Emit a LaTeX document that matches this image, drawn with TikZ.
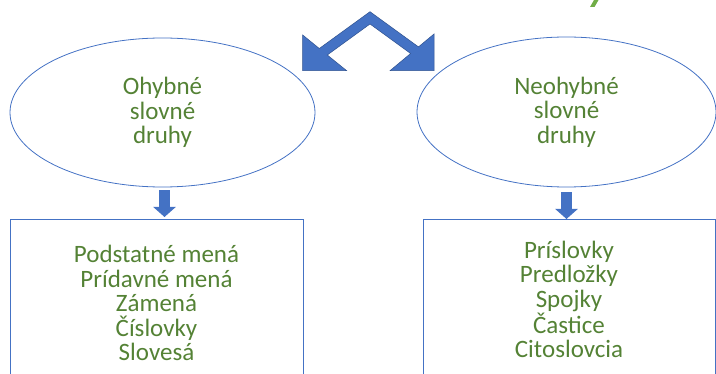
\documentclass[tikz,border=0pt]{standalone}
\usepackage{fontspec}
\setmainfont{Carlito}
\usepackage{tikz}
\usetikzlibrary{arrows.meta, positioning, shapes.geometric}

\definecolor{zelena}{RGB}{84,130,53}
\definecolor{svetlozelena}{RGB}{112,173,71}
\definecolor{modra}{RGB}{68,114,196}
\definecolor{tmavomodra}{RGB}{47,82,143}

\begin{document}
\begin{tikzpicture}[x=1pt, y=-1pt,
    pismo/.style={text=zelena, align=center, font=\fontsize{25}{24.5}\selectfont},
    druh/.style={pismo, draw=modra, line width=0.8pt, ellipse},
    zoznam/.style={pismo, draw=modra, line width=0.8pt, rectangle, anchor=north},
    sipka/.style={line width=11pt, modra, -{Triangle[width=22pt, length=10pt]}}]

    \useasboundingbox (0,0) rectangle (716,374);

    % Piece of the title cut off at the top edge
    \fill[svetlozelena] (590,7) -- (594.5,7) -- (598.5,0) -- (594,0) -- cycle;

    % Double arrow pointing to both groups
    \filldraw[fill=modra, draw=tmavomodra, line width=0.5pt]
        (370,11.7) -- (418.5,46.9) -- (434,34) -- (434,70.7) -- (390,70.7) -- (410.6,53.5)
        -- (370,24) -- (327.3,55) -- (346.7,70.7) -- (302.7,70.7) -- (302.7,35) -- (319.3,48.5) -- cycle;

    % Nodes for the two groups of word classes
    \node (ohybne) [druh, minimum width=305pt, minimum height=149pt] at (162.5,112.5) {Ohybné\\slovné\\druhy};
    \node (neohybne) [druh, minimum width=299pt, minimum height=150pt] at (566.5,112) {Neohybné\\slovné\\druhy};

    % Boxes below the ellipses, open at the lower edge
    \node (ohybneZoznam) [zoznam, minimum width=293pt, minimum height=168pt] at (156.5,219)
        {Podstatné mená\\Prídavné mená\\Zámená\\Číslovky\\Slovesá};
    \node (neohybneZoznam) [zoznam, minimum width=292pt, minimum height=160pt] at (569,219)
        {Príslovky\\Predložky\\Spojky\\Častice\\Citoslovcia};

    % Draw arrows from each ellipse to its box
    \draw[sipka, shorten <=3pt, shorten >=2pt] ([xshift=2pt]ohybne.south) -- ([xshift=2pt]ohybne.south |- ohybneZoznam.north);
    \draw[sipka, shorten <=5pt, shorten >=0pt] (neohybne.south) -- (neohybne.south |- neohybneZoznam.north);

\end{tikzpicture}
\end{document}
